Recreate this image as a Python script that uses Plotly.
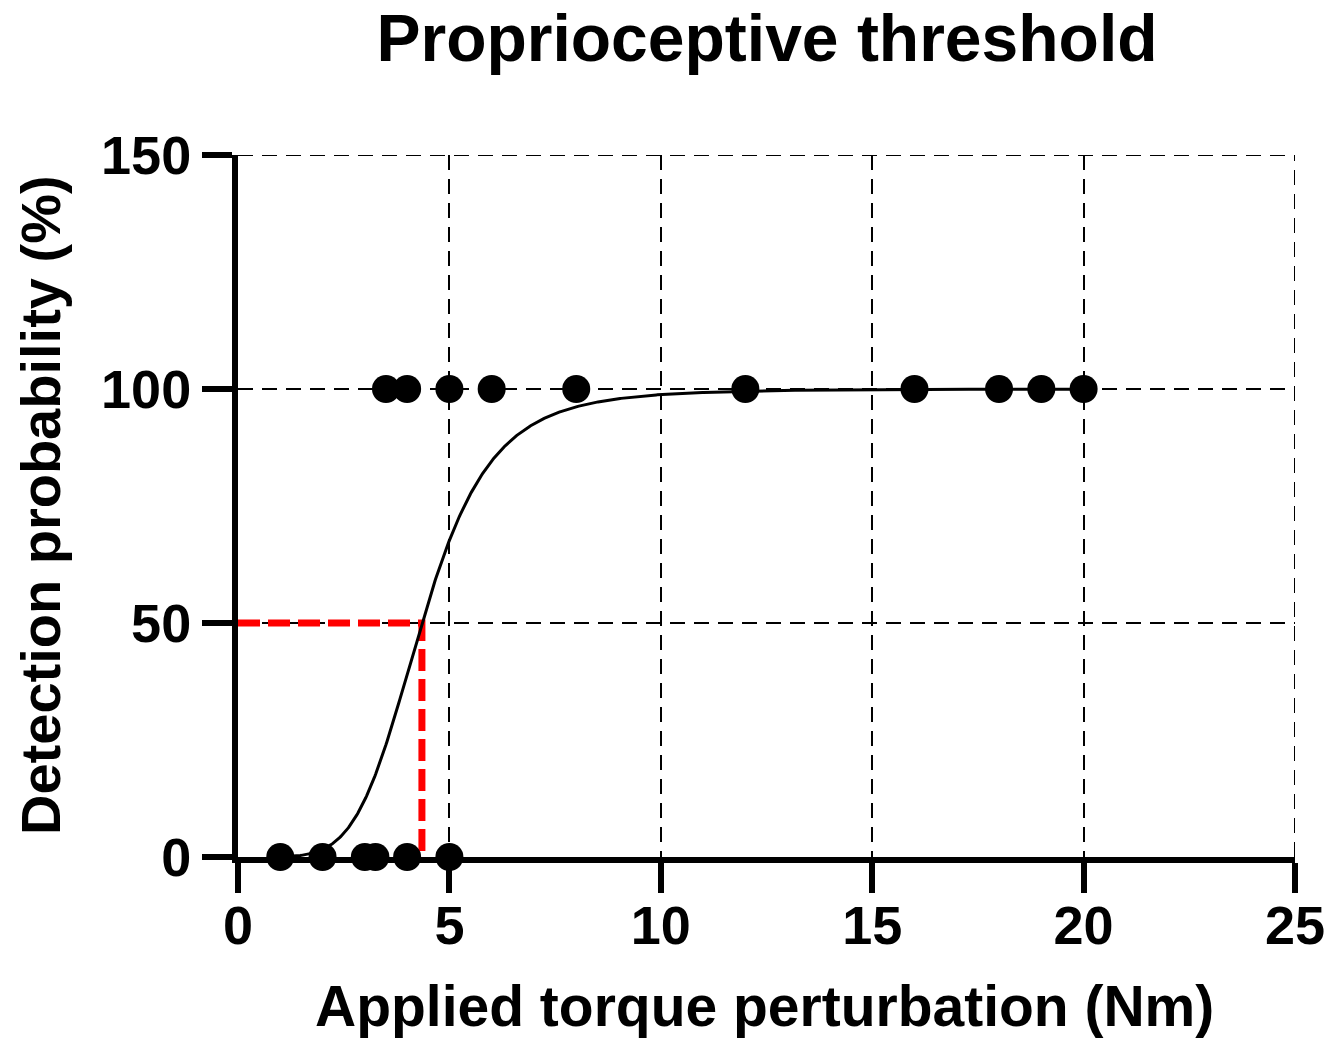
import numpy as np
import plotly.graph_objects as go

# Observed detections (x = applied torque, y = detected %)
detected_x = [3.5, 4, 5, 6, 8, 12, 16, 18, 19, 20]
detected_y = [100] * len(detected_x)
missed_x = [1, 2, 3, 3.25, 4, 5]
missed_y = [0] * len(missed_x)

# Fitted log-logistic psychometric curve parameters
threshold = 4.35
hill_slope = 5.3
curve_x_min, curve_x_max = 1, 20

x_tick_vals = [0, 5, 10, 15, 20, 25]
y_tick_vals = [0, 50, 100, 150]
x_max, y_max = 25, 150

cx = np.linspace(curve_x_min, curve_x_max, 800)
cy = 100 / (1 + 10 ** ((np.log10(threshold) - np.log10(cx)) * hill_slope))

FONT = "Liberation Sans, Arial, sans-serif"
GRID_DASH = "15px,9px"

fig = go.Figure()

# Red threshold guide lines
fig.add_trace(go.Scatter(
    x=[0, threshold, threshold], y=[50, 50, 0], mode="lines",
    line=dict(color="#ff0000", width=7, dash="22px,8px"),
    hoverinfo="skip", showlegend=False, cliponaxis=False))

fig.add_trace(go.Scatter(
    x=cx, y=cy, mode="lines", line=dict(color="black", width=3),
    showlegend=False, cliponaxis=False))

fig.add_trace(go.Scatter(
    x=detected_x + missed_x, y=detected_y + missed_y, mode="markers",
    marker=dict(color="black", size=28, line=dict(width=0)),
    showlegend=False, cliponaxis=False))

# Dashed frame lines at the top and right edges (grid at 150 and 25)
fig.add_shape(type="line", x0=0, x1=x_max, y0=y_max, y1=y_max, xref="x", yref="y",
              line=dict(color="black", width=2, dash=GRID_DASH), layer="below")
fig.add_shape(type="line", x0=x_max, x1=x_max, y0=0, y1=y_max, xref="x", yref="y",
              line=dict(color="black", width=2, dash=GRID_DASH), layer="below")

fig.update_layout(
    width=1342, height=1040,
    paper_bgcolor="white", plot_bgcolor="white",
    margin=dict(l=230, r=55, t=147, b=191, autoexpand=False),
    font=dict(family=FONT, color="black"),
    title=dict(text="<b>Proprioceptive threshold</b>", x=759 / 1342, xanchor="center",
               y=1 - 7 / 1040, yanchor="top", yref="container", pad=dict(t=0, b=0),
               font=dict(size=66, family=FONT, color="black")),
    annotations=[
        dict(text="<b>Applied torque perturbation (Nm)</b>", xref="paper", yref="paper",
             x=(763 - 237) / 1057, y=(857 - 1040) / 702, xanchor="center", yanchor="bottom",
             showarrow=False, font=dict(size=57, family=FONT, color="black")),
        dict(text="<b>Detection probability (%)</b>", xref="paper", yref="paper",
             x=(39 - 237) / 1057, y=(857 - 505) / 702, xanchor="center", yanchor="middle",
             textangle=-90, showarrow=False, font=dict(size=56, family=FONT, color="black")),
    ],
)

fig.update_xaxes(
    range=[0, x_max], tickvals=x_tick_vals, ticktext=[f"<b>{v}</b>" for v in x_tick_vals],
    showline=True, linecolor="black", linewidth=6,
    ticks="outside", ticklen=30, tickwidth=6, tickcolor="black",
    tickfont=dict(size=54, family=FONT, color="black"), ticklabelstandoff=-14,
    showgrid=True, gridcolor="black", gridwidth=2, griddash=GRID_DASH,
    zeroline=False,
)
fig.update_yaxes(
    range=[0, y_max], tickvals=y_tick_vals, ticktext=[f"<b>{v}</b>" for v in y_tick_vals],
    showline=True, linecolor="black", linewidth=6,
    ticks="outside", ticklen=30, tickwidth=6, tickcolor="black",
    tickfont=dict(size=54, family=FONT, color="black"),
    showgrid=True, gridcolor="black", gridwidth=2, griddash=GRID_DASH,
    zeroline=False,
)

fig.write_html("out.html")
